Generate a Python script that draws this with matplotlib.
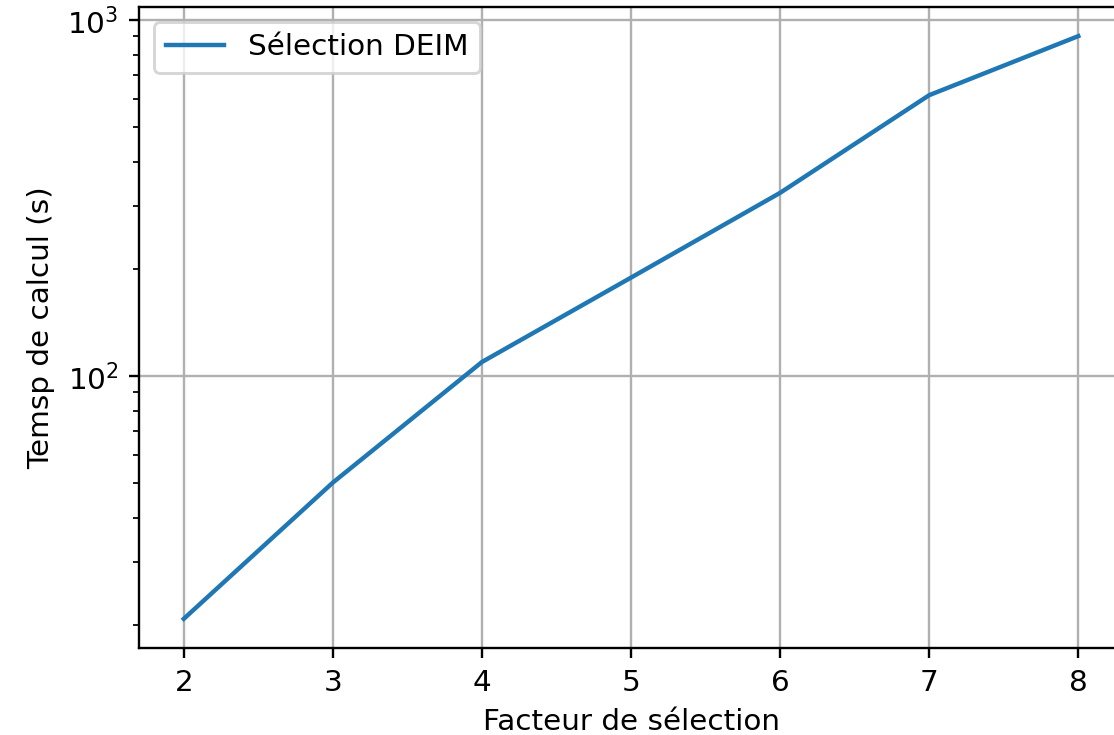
import matplotlib
matplotlib.use("Agg")
import matplotlib.pyplot as plt

# Temps de calcul en fonction du facteur de sélection
facteurs = [2, 3, 4, 5, 6, 7, 8]
temps = [20.8, 50.2, 109.5, 189.0, 327.0, 615.0, 901.0]

DPI = 212
fig = plt.figure(figsize=(1114 / DPI, 735 / DPI), dpi=DPI)
ax = fig.add_axes([0.1248, 0.1184, 0.8833, 0.8721])

ax.plot(facteurs, temps, color="#1f77b4", label="Sélection DEIM")
ax.set_yscale("log")
ax.grid(True, which="major")
ax.set_xlabel("Facteur de sélection")
ax.set_ylabel("Temsp de calcul (s)")
ax.legend(loc="upper left")

fig.savefig("out.png", dpi=DPI)
